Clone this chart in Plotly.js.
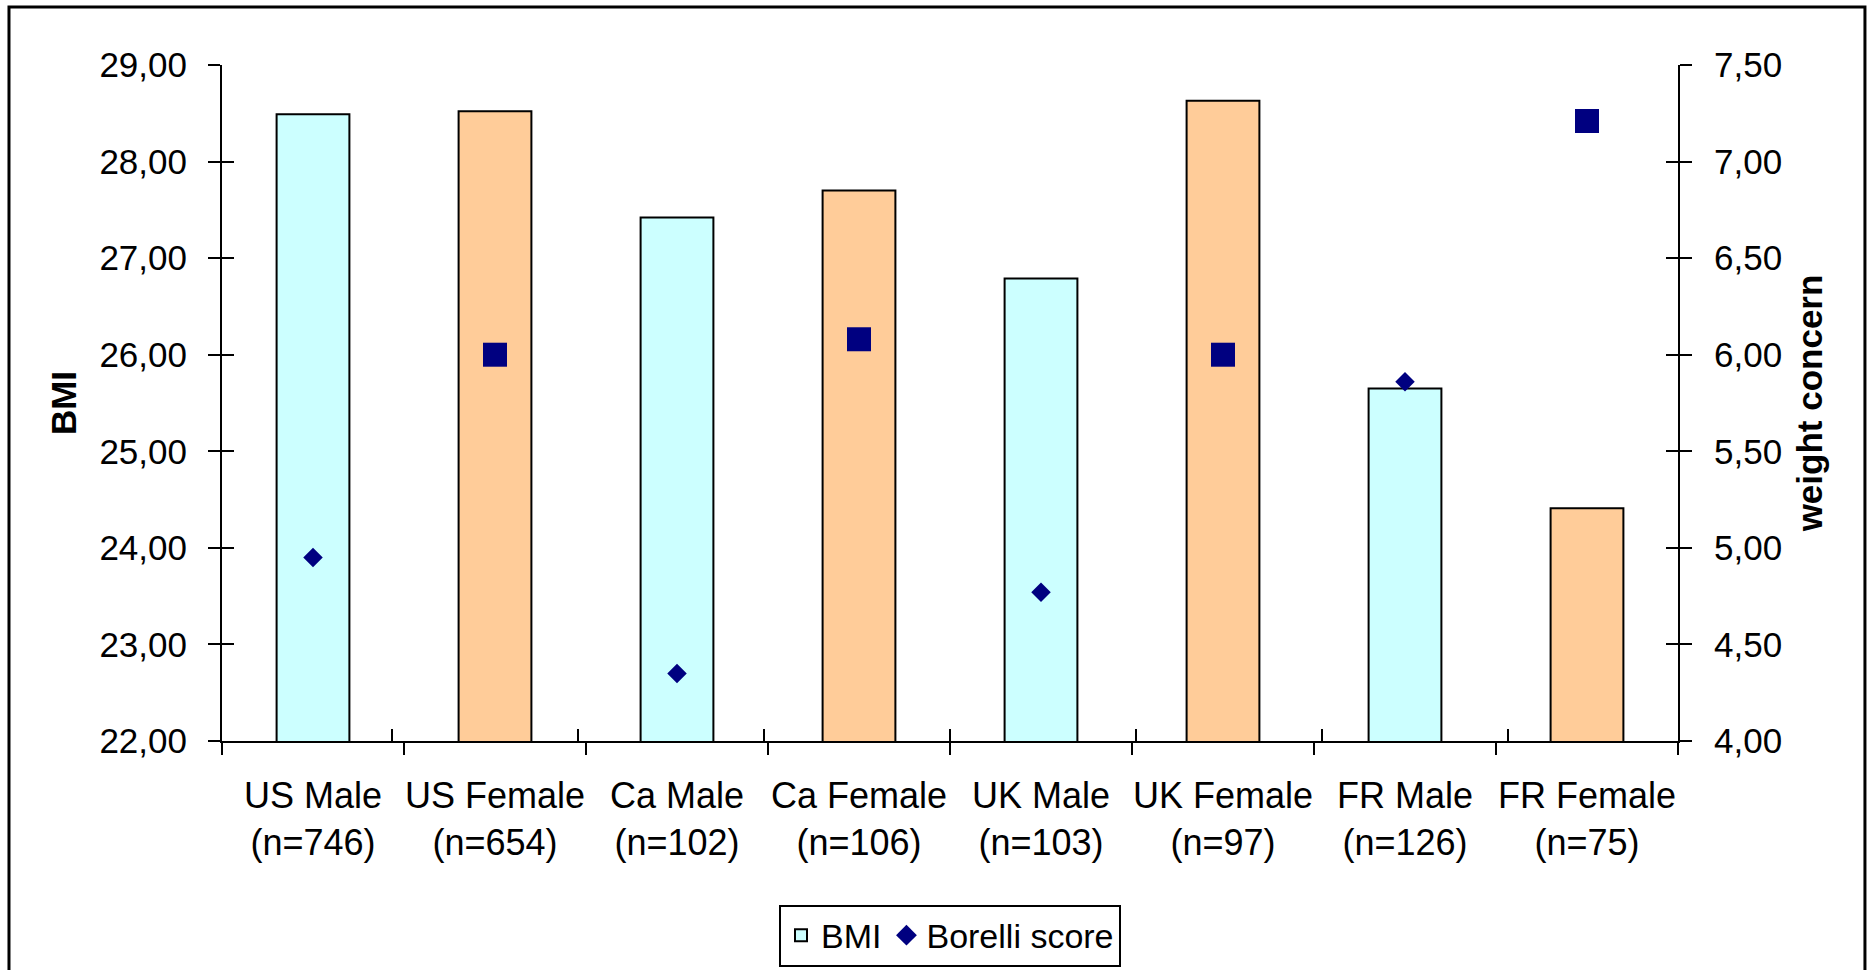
<!DOCTYPE html>
<html>
<head>
<meta charset="utf-8">
<script src="https://cdn.plot.ly/plotly-3.0.1.min.js"></script>
<style>
  html, body { margin: 0; padding: 0; background: #ffffff; }
  #chart { width: 1867px; height: 970px; }
</style>
</head>
<body>
<div id="chart"></div>
<script>
// Groups shown along the category axis
const countries = ['US', 'US', 'Ca', 'Ca', 'UK', 'UK', 'FR', 'FR'];
const sexes = ['Male', 'Female', 'Male', 'Female', 'Male', 'Female', 'Male', 'Female'];
const sampleSizes = [746, 654, 102, 106, 103, 97, 126, 75];

// Mean BMI per group (left axis)
const bmi = [28.49, 28.52, 27.42, 27.70, 26.79, 28.63, 25.65, 24.41];
// Borelli score per group (right axis, weight concern)
const borelli = [4.95, 6.00, 4.35, 6.08, 4.77, 6.00, 5.86, 7.21];

const labels = countries.map((c, i) => c + ' ' + sexes[i] + '<br>(n=' + sampleSizes[i] + ')');

const FONT = 'Liberation Sans, Arial, sans-serif';
const barColors = sexes.map(s => s === 'Male' ? '#CCFFFF' : '#FFCC99');
const symbols = sexes.map(s => s === 'Male' ? 'diamond' : 'square');
const sizes = sexes.map(s => s === 'Male' ? 15 : 24);

const traces = [
  {
    type: 'bar',
    name: 'BMI',
    x: labels,
    y: bmi,
    marker: { color: barColors, line: { color: '#000000', width: 2 } },
    hoverinfo: 'skip'
  },
  {
    type: 'scatter',
    mode: 'markers',
    name: 'Borelli score',
    x: labels,
    y: borelli,
    yaxis: 'y2',
    marker: { color: '#000080', opacity: 1, symbol: symbols, size: sizes, line: { width: 0 } },
    hoverinfo: 'skip'
  },
  // invisible companions that carry the inward half of the crossing tick marks
  {
    type: 'scatter',
    mode: 'markers',
    x: labels,
    y: bmi,
    xaxis: 'x2',
    yaxis: 'y3',
    marker: { opacity: 0 },
    showlegend: false,
    hoverinfo: 'skip'
  },
  {
    type: 'scatter',
    mode: 'markers',
    x: labels,
    y: borelli,
    yaxis: 'y4',
    marker: { opacity: 0 },
    showlegend: false,
    hoverinfo: 'skip'
  }
];

const tickFont = { family: FONT, size: 35, color: '#000000' };
const catFont = { family: FONT, size: 36, color: '#000000' };
const titleFont = { family: FONT, size: 35, color: '#000000', weight: 'bold' };

const layout = {
  width: 1867,
  height: 970,
  margin: { l: 222, r: 189, t: 65, b: 229, autoexpand: false },
  paper_bgcolor: '#ffffff',
  plot_bgcolor: 'rgba(0,0,0,0)',
  separators: ',.',
  bargap: 0.6,
  showlegend: true,
  legend: {
    orientation: 'h',
    x: 0.5,
    xanchor: 'center',
    y: -0.242,
    yanchor: 'top',
    bordercolor: '#000000',
    borderwidth: 2,
    bgcolor: '#ffffff',
    font: { family: FONT, size: 34, color: '#000000' },
    itemwidth: 30,
    traceorder: 'normal'
  },
  xaxis: {
    type: 'category',
    tickson: 'boundaries',
    tickangle: 0,
    ticks: 'outside',
    ticklen: 12,
    tickwidth: 2,
    tickcolor: '#000000',
    showline: true,
    linecolor: '#000000',
    linewidth: 2,
    showgrid: false,
    zeroline: false,
    tickfont: catFont,
    ticklabelstandoff: 22,
    automargin: false
  },
  xaxis2: {
    type: 'category',
    overlaying: 'x',
    anchor: 'y3',
    side: 'bottom',
    tickson: 'boundaries',
    ticks: 'inside',
    ticklen: 12,
    tickwidth: 2,
    tickcolor: '#000000',
    showticklabels: false,
    showline: false,
    showgrid: false,
    zeroline: false
  },
  yaxis: {
    range: [22, 29],
    dtick: 1,
    tickformat: '.2f',
    ticks: 'outside',
    ticklen: 12,
    tickwidth: 2,
    tickcolor: '#000000',
    showline: true,
    linecolor: '#000000',
    linewidth: 2,
    showgrid: false,
    zeroline: false,
    tickfont: tickFont,
    ticklabelstandoff: 14,
    title: { text: 'BMI', font: titleFont, standoff: 12 },
    automargin: false
  },
  yaxis2: {
    overlaying: 'y',
    side: 'right',
    anchor: 'x',
    range: [4, 7.5],
    dtick: 0.5,
    tickformat: '.2f',
    ticks: 'outside',
    ticklen: 12,
    tickwidth: 2,
    tickcolor: '#000000',
    showline: true,
    linecolor: '#000000',
    linewidth: 2,
    showgrid: false,
    zeroline: false,
    tickfont: tickFont,
    ticklabelstandoff: 15,
    title: { text: 'weight concern', font: titleFont, standoff: 16 },
    automargin: false
  },
  yaxis3: {
    overlaying: 'y',
    side: 'left',
    anchor: 'x2',
    range: [22, 29],
    dtick: 1,
    ticks: 'inside',
    ticklen: 12,
    tickwidth: 2,
    tickcolor: '#000000',
    showticklabels: false,
    showline: false,
    showgrid: false,
    zeroline: false
  },
  yaxis4: {
    overlaying: 'y',
    side: 'right',
    anchor: 'x',
    range: [4, 7.5],
    dtick: 0.5,
    ticks: 'inside',
    ticklen: 12,
    tickwidth: 2,
    tickcolor: '#000000',
    showticklabels: false,
    showline: false,
    showgrid: false,
    zeroline: false
  },
  shapes: [
    {
      // chart frame, open at the bottom edge of the page
      type: 'rect',
      xref: 'paper',
      yref: 'paper',
      x0: -0.1463,
      x1: 1.1284,
      y0: -0.37,
      y1: 1.0858,
      line: { color: '#000000', width: 3 },
      fillcolor: 'rgba(0,0,0,0)',
      layer: 'below'
    }
  ]
};

Plotly.newPlot('chart', traces, layout, { displayModeBar: false, staticPlot: true });
</script>
</body>
</html>
